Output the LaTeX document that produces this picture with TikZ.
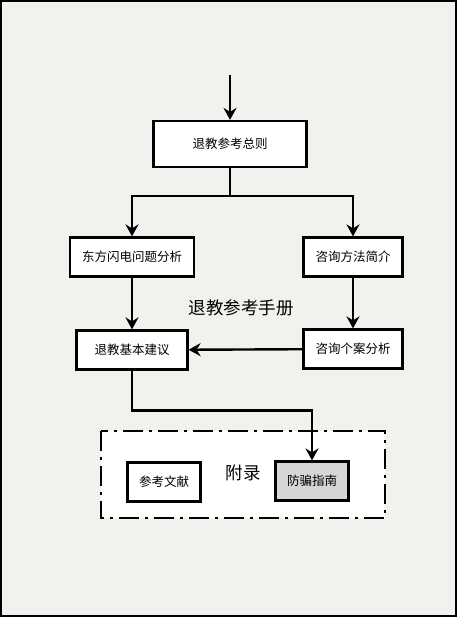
\documentclass[tikz,border=0pt]{standalone}
\usepackage{fontspec}
\setmainfont{Noto Sans CJK SC}
\usepackage{xcolor}
\usetikzlibrary{arrows.meta}

\definecolor{paper}{HTML}{F2F1ED}
\definecolor{shade}{HTML}{D6D6D6}

\tikzset{
    box/.style={draw,line width=2.2pt,fill=white,font=\fontsize{12.5}{14}\selectfont,inner sep=0pt},
    flow/.style={line width=2.4pt,-{Stealth[length=12pt,width=13pt,inset=4pt]}},
    title/.style={font=\fontsize{17.5}{20}\selectfont}
}

\begin{document}
\begin{tikzpicture}[x=1pt,y=-1pt]
    % Page
    \useasboundingbox (0,0) rectangle (458,618);
    \draw[line width=2pt,fill=paper] (1,1) rectangle (456,616);

    % Appendix frame
    \draw[line width=2.2pt,fill=white,dash pattern=on 20pt off 6pt on 3pt off 6pt]
        (101,431) rectangle (385,518);

    % Boxes
    \node[box,minimum width=153pt,minimum height=46pt] (rules) at (230,144) {退教参考总则};
    \node[box,minimum width=124pt,minimum height=39pt] (east) at (132,257) {东方闪电问题分析};
    \node[box,minimum width=99pt,minimum height=39pt] (method) at (353,257) {咨询方法简介};
    \node[box,minimum width=111pt,minimum height=39pt] (advice) at (132,350) {退教基本建议};
    \node[box,minimum width=99pt,minimum height=39pt] (cases) at (353,349) {咨询个案分析};
    \node[box,minimum width=73pt,minimum height=39pt] (refs) at (164,482) {参考文献};
    \node[box,fill=shade,minimum width=73pt,minimum height=39pt] (guide) at (312,481) {防骗指南};

    % Labels
    \node[title] (manual) at (241,308) {退教参考手册};
    \node[title] (appx) at (243,473) {附录};

    % Connectors
    \coordinate (entry) at (230,75);
    \draw[flow] (entry) -- (rules);
    \draw[flow] (rules.south) -- ++(0,28) -| (east.north);
    \draw[flow] (rules.south) -- ++(0,28) -| (method.north);
    \draw[flow] (east) -- (advice);
    \draw[flow] (method) -- (cases);
    \draw[flow] (cases) -- (advice);
    \draw[flow] (advice.south) -- ++(0,40) -| (guide.north);
\end{tikzpicture}
\end{document}
